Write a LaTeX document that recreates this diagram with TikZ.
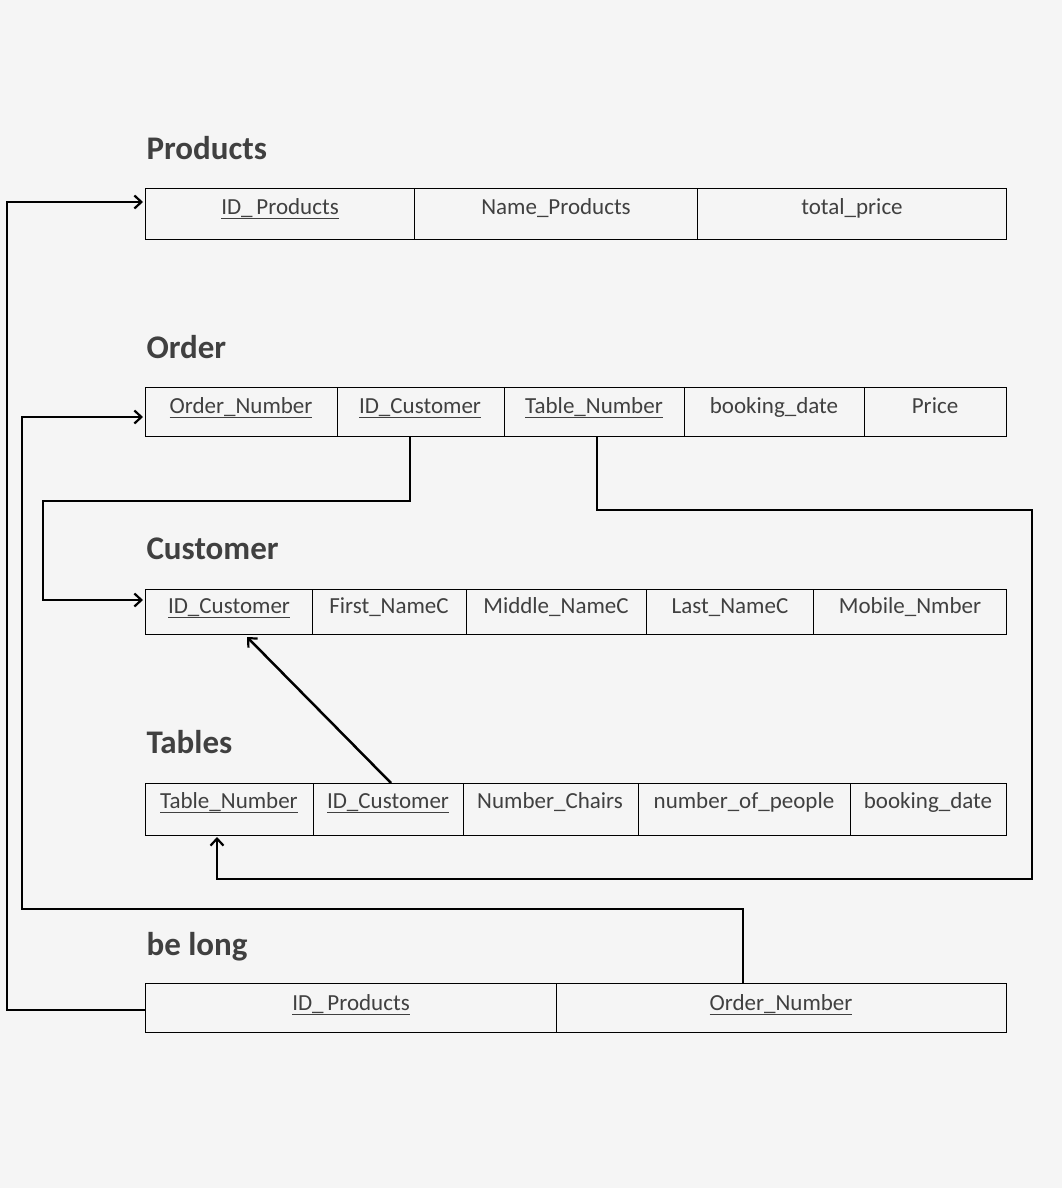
\documentclass[tikz,border=0pt]{standalone}
\usepackage{fontspec}
\setmainfont{Carlito}
\usetikzlibrary{arrows.meta}
\definecolor{bg}{HTML}{F5F5F5}
\definecolor{ttl}{HTML}{404040}
\begin{document}
\begin{tikzpicture}[x=1pt,y=-1pt,
  cellt/.style={font=\fontsize{23}{26}\selectfont, text=ttl, anchor=base},
  ttlt/.style={font=\fontsize{33}{36}\selectfont\bfseries, text=ttl, anchor=base west},
  box/.style={draw=black, line width=0.8pt},
  link/.style={line width=2.5pt, -{Straight Barb[length=7pt,width=13pt,line width=2.2pt]}}]
\fill[bg] (0,0) rectangle (1062,1188);
\useasboundingbox (0,0) rectangle (1062,1188);
% Products
\node[ttlt] (tp) at (143,159) {Products};
\draw[box] (145,188) rectangle (1006,239);
\draw[box] (414,188) -- (414,239) (697,188) -- (697,239);
\node[cellt] (p1) at (280,214) {\underline{ID\_\,Products}};
\node[cellt] (p2) at (556,214) {Name\_Products};
\node[cellt] (p3) at (852,214) {total\_price};
% Order
\node[ttlt] (to) at (143,358) {Order};
\draw[box] (145,387) rectangle (1006,436);
\draw[box] (337,387) -- (337,436) (504,387) -- (504,436) (684,387) -- (684,436) (864,387) -- (864,436);
\node[cellt] (o1) at (241,413) {\underline{Order\_Number}};
\node[cellt] (o2) at (420,413) {\underline{ID\_Customer}};
\node[cellt] (o3) at (594,413) {\underline{Table\_Number}};
\node[cellt] (o4) at (774,413) {booking\_date};
\node[cellt] (o5) at (935,413) {Price};
% Customer
\node[ttlt] (tc) at (143,559) {Customer};
\draw[box] (145,589) rectangle (1006,634);
\draw[box] (312,589) -- (312,634) (466,589) -- (466,634) (646,589) -- (646,634) (813,589) -- (813,634);
\node[cellt] (c1) at (229,613) {\underline{ID\_Customer}};
\node[cellt] (c2) at (389,613) {First\_NameC};
\node[cellt] (c3) at (556,613) {Middle\_NameC};
\node[cellt] (c4) at (730,613) {Last\_NameC};
\node[cellt] (c5) at (910,613) {Mobile\_Nmber};
% Tables
\node[ttlt] (tt) at (143,753) {Tables};
\draw[box] (145,783) rectangle (1006,835);
\draw[box] (313,783) -- (313,835) (463,783) -- (463,835) (638,783) -- (638,835) (850,783) -- (850,835);
\node[cellt] (t1) at (229,808) {\underline{Table\_Number}};
\node[cellt] (t2) at (388,808) {\underline{ID\_Customer}};
\node[cellt] (t3) at (550,808) {Number\_Chairs};
\node[cellt] (t4) at (744,808) {number\_of\_people};
\node[cellt] (t5) at (928,808) {booking\_date};
% be long
\node[ttlt] (tb) at (143,955) {be long};
\draw[box] (145,983) rectangle (1006,1032);
\draw[box] (556,983) -- (556,1032);
\node[cellt] (b1) at (351,1010) {\underline{ID\_\,Products}};
\node[cellt] (b2) at (781,1010) {\underline{Order\_Number}};
% connectors
\coordinate (s1) at (145,1010); \coordinate (e1) at (143,202);
\draw[link] (s1) -- (7,1010) -- (7,202) -- (e1);
\coordinate (s2) at (743,983); \coordinate (e2) at (143,417);
\draw[link] (s2) -- (743,909) -- (22,909) -- (22,417) -- (e2);
\coordinate (s3) at (410,436); \coordinate (e3) at (143,600);
\draw[link] (s3) -- (410,501) -- (43,501) -- (43,600) -- (e3);
\coordinate (s4) at (597,436); \coordinate (e4) at (217,837);
\draw[link] (s4) -- (597,510) -- (1032,510) -- (1032,879) -- (217,879) -- (e4);
\coordinate (s5) at (391,783); \coordinate (e5) at (247,637);
\draw[link] (s5) -- (e5);
\end{tikzpicture}
\end{document}
